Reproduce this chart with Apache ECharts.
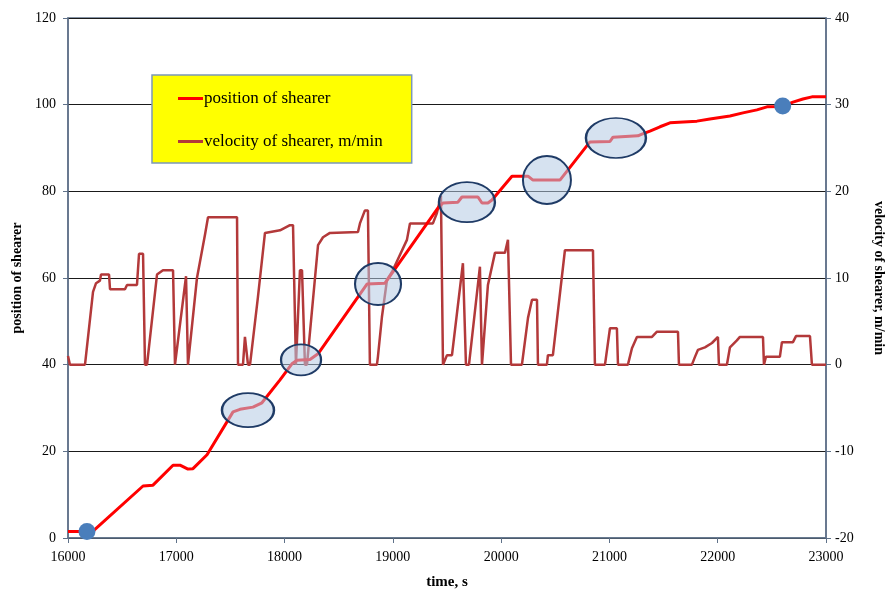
<!DOCTYPE html>
<html>
<head>
<meta charset="utf-8">
<script src="https://cdn.jsdelivr.net/npm/echarts@6/dist/echarts.min.js"></script>
<style>html,body{margin:0;padding:0;background:#fff}#c{width:890px;height:592px}</style>
</head>
<body>
<div id="c"></div>
<script>
// ---- data ----
const xTicks = [16000, 17000, 18000, 19000, 20000, 21000, 22000, 23000];
const posTicks = [0, 20, 40, 60, 80, 100, 120];
const velTicks = [-20, -10, 0, 10, 20, 30, 40];

const positionTime = [16000,16175,16231,16693,16785,16970,17034,17108,17154,17284,17524,17588,17708,17791,17958,18068,18115,18235,18309,18761,18927,18955,19417,19463,19601,19638,19786,19823,19878,19915,20100,20248,20294,20543,20820,21005,21033,21263,21300,21374,21467,21559,21808,21928,22113,22233,22362,22455,22593,22695,22787,22870,23000];
const positionValue = [1.5,1.5,1.6,12.0,12.2,16.8,16.8,15.9,16.0,19.2,29.1,29.7,30.2,31.2,36.5,40.2,41.0,41.2,42.5,58.6,58.8,59.8,76.2,77.3,77.5,78.7,78.7,77.3,77.3,78.0,83.5,83.5,82.6,82.6,91.4,91.5,92.5,92.8,93.2,93.9,94.9,95.8,96.2,96.7,97.4,98.1,98.8,99.5,99.6,100.6,101.3,101.8,101.8];

const velocityTime = [16000,16018,16157,16231,16259,16295,16305,16379,16388,16526,16545,16637,16656,16693,16711,16730,16822,16877,16970,16988,17090,17108,17191,17265,17293,17561,17570,17616,17634,17662,17681,17754,17819,17958,18050,18078,18105,18115,18142,18161,18188,18207,18309,18355,18419,18678,18696,18742,18770,18788,18853,18862,18899,18946,18992,19130,19158,19370,19407,19444,19463,19500,19546,19647,19675,19703,19804,19823,19878,19943,20035,20063,20091,20192,20248,20285,20331,20340,20423,20432,20478,20589,20848,20866,20959,21005,21069,21079,21171,21208,21254,21393,21439,21633,21642,21762,21790,21817,21882,21947,22002,22011,22085,22113,22177,22205,22418,22427,22445,22574,22593,22695,22723,22852,22870,23000];
const velocityValue = [1.0,0,0,8.4,9.4,9.7,10.4,10.4,8.7,8.7,9.2,9.2,12.8,12.8,0,0,10.4,10.9,10.9,0,10.2,0,10.0,15.0,17.0,17.0,0,0,3.2,0,0,7.8,15.2,15.5,16.1,16.1,0,0,10.9,10.9,0,0,13.8,14.7,15.2,15.3,16.3,17.8,17.8,0,0,0.9,5.5,9.8,10.7,14.4,16.3,16.3,17.5,19.5,0,1.1,1.1,11.7,0,0,11.3,0,9.2,12.9,12.9,14.4,0,0,5.4,7.5,7.5,0,0,1.1,1.1,13.2,13.2,0,0,4.2,4.2,0,0,1.9,3.2,3.2,3.8,3.8,0,0,0.9,1.7,2.0,2.5,3.2,0,0,2.0,2.8,3.2,3.2,0,0.9,0.9,2.6,2.6,3.3,3.3,0,0];

const endpointTime = [16175, 22600];
const endpointPosition = [1.5, 99.7];

const highlightTime = [17662, 18152, 18863, 19684, 20423, 21060];
const highlightPosition = [29.5, 41.1, 58.6, 77.5, 82.6, 92.3];

// ---- styles ----
const ELLIPSE_PX = [[52,34],[40,31],[46,42],[56,40],[48,48],[60,40]];
const SERIF = "'Liberation Serif','Times New Roman',serif";
const AXIS_COLOR = '#5f7189';

const zip = (a, b) => a.map((v, i) => [v, b[i]]);

const chart = echarts.init(document.getElementById('c'), null, {renderer: 'canvas'});
chart.setOption({
  animation: false,
  backgroundColor: '#ffffff',
  grid: {left: 68, right: 64, top: 18, bottom: 54, containLabel: false, outerBoundsMode: 'none',
    show: true, borderColor: AXIS_COLOR, borderWidth: 1.5, backgroundColor: 'transparent'},
  legend: {
    data: ['position of shearer', 'velocity of shearer, m/min'],
    orient: 'vertical', left: 152, top: 75,
    backgroundColor: '#ffff00', borderColor: '#7c98b8', borderWidth: 1.5, borderRadius: 0,
    padding: [15, 29, 13, 26], itemGap: 26,
    icon: 'rect', itemWidth: 25, itemHeight: 3,
    textStyle: {fontFamily: SERIF, fontSize: 17, color: '#000', padding: [0, 0, 0, -4]}
  },
  xAxis: {
    type: 'value', min: 16000, max: 23000, interval: 1000,
    name: 'time, s', nameLocation: 'middle', nameGap: 37,
    nameTextStyle: {fontFamily: SERIF, fontSize: 15, fontWeight: 'bold', color: '#000'},
    axisLine: {show: true, lineStyle: {color: AXIS_COLOR, width: 1.5}},
    axisTick: {show: true, inside: false, length: 5, lineStyle: {color: AXIS_COLOR}},
    axisLabel: {fontFamily: SERIF, fontSize: 14, color: '#000', margin: 12,
      formatter: v => xTicks.includes(v) ? String(v) : ''},
    splitLine: {show: false}
  },
  yAxis: [{
    type: 'value', min: 0, max: 120, interval: 20, position: 'left',
    name: 'position of shearer', nameLocation: 'middle', nameGap: 43, nameRotate: 90,
    nameTextStyle: {fontFamily: SERIF, fontSize: 14, fontWeight: 'bold', color: '#000'},
    axisLine: {show: true, lineStyle: {color: AXIS_COLOR, width: 1.5}},
    axisTick: {show: true, length: 5, lineStyle: {color: AXIS_COLOR}},
    axisLabel: {fontFamily: SERIF, fontSize: 14, color: '#000', margin: 12,
      formatter: v => posTicks.includes(v) ? String(v) : ''},
    splitLine: {show: true, lineStyle: {color: '#1a1a1a', width: 1.2}}
  }, {
    type: 'value', min: -20, max: 40, interval: 10, position: 'right',
    name: 'velocity of shearer, m/min', nameLocation: 'middle', nameGap: 46, nameRotate: -90,
    nameTextStyle: {fontFamily: SERIF, fontSize: 14, fontWeight: 'bold', color: '#000'},
    axisLine: {show: true, lineStyle: {color: AXIS_COLOR, width: 1.5}},
    axisTick: {show: true, length: 5, lineStyle: {color: AXIS_COLOR}},
    axisLabel: {fontFamily: SERIF, fontSize: 14, color: '#000', margin: 9,
      formatter: v => velTicks.includes(v) ? String(v) : ''},
    splitLine: {show: false}
  }],
  series: [{
    name: 'position of shearer', type: 'line', yAxisIndex: 0, z: 3,
    data: zip(positionTime, positionValue), showSymbol: false, symbol: 'none',
    lineStyle: {color: '#ff0000', width: 3}, itemStyle: {color: '#ff0000'}
  }, {
    name: 'velocity of shearer, m/min', type: 'line', yAxisIndex: 1, z: 2,
    data: zip(velocityTime, velocityValue), showSymbol: false, symbol: 'none',
    lineStyle: {color: '#b3393a', width: 2.5}, itemStyle: {color: '#b3393a'}
  }, {
    name: 'highlights', type: 'scatter', yAxisIndex: 0, z: 4,
    data: zip(highlightTime, highlightPosition),
    symbol: 'circle',
    symbolSize: (v, p) => ELLIPSE_PX[p.dataIndex],
    itemStyle: {color: 'rgba(180,202,228,0.55)', borderColor: '#1f3b66', borderWidth: 2, opacity: 1},
    emphasis: {disabled: true}
  }, {
    name: 'endpoints', type: 'scatter', yAxisIndex: 0, z: 5,
    data: zip(endpointTime, endpointPosition),
    symbol: 'circle', symbolSize: 17,
    itemStyle: {color: '#4a7ebb', opacity: 1},
    emphasis: {disabled: true}
  }]
});
</script>
</body>
</html>
